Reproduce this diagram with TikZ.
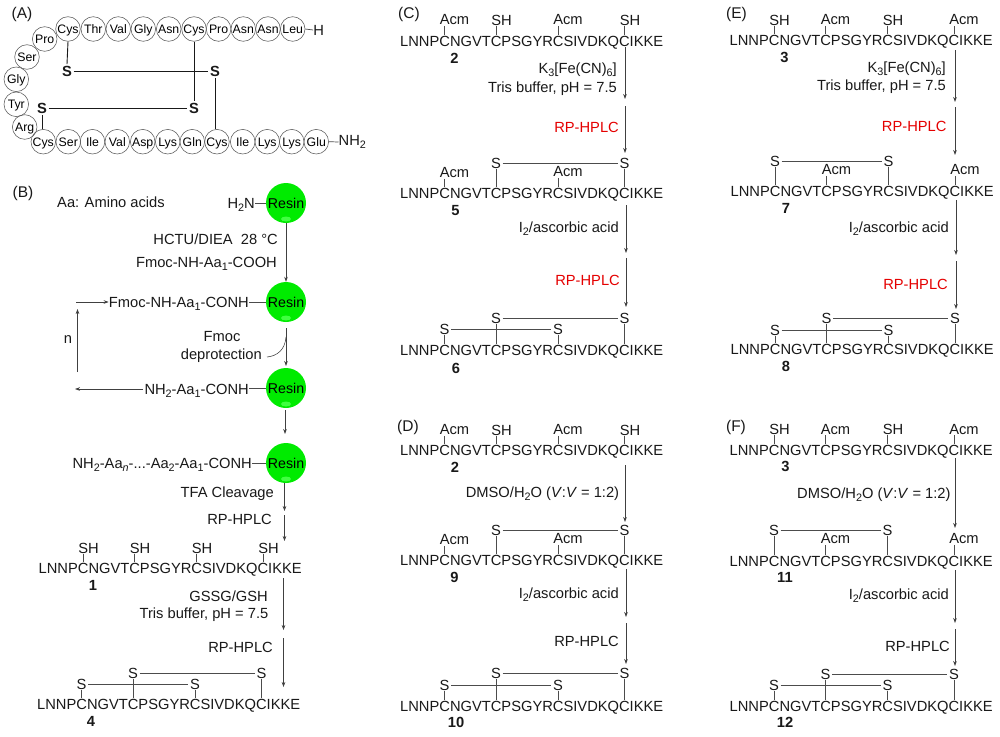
\documentclass[tikz,border=0pt]{standalone}
\usepackage{fontspec}
\setmainfont{Liberation Sans}
\usetikzlibrary{arrows.meta,calc,shapes.geometric}
\newcommand{\dn}[1]{\raisebox{-0.22em}{\fontsize{10.8}{11}\selectfont #1}}
\newcommand{\seqtext}{LNNPCNGVTCPSGYRCSIVDKQCIKKE}
\tikzset{
  txt/.style={font=\fontsize{14.7}{17}\selectfont,inner sep=0pt,text=black!90},
  base/.style={txt,yshift=-5.3pt},
  sequ/.style={base,anchor=base west},
  rgt/.style={base,anchor=base east},
  red rgt/.style={rgt,text=red!90!black},
  lab/.style={txt,inner ysep=.5pt,anchor=west,xshift=-4.9pt},
  sulf/.style={txt,inner xsep=1.5pt,inner ysep=.5pt},
  num/.style={txt,font=\fontsize{14.7}{17}\selectfont\bfseries},
  panel/.style={txt,font=\fontsize{15.5}{18}\selectfont},
  bond/.style={draw=black!70,line width=.7pt},
  arr/.style={draw=black!75,line width=.7pt,-{Stealth[length=5pt,width=3.6pt]}},
  aa/.style={circle,draw=black!65,line width=.55pt,minimum size=24.6pt,inner sep=0pt,
    font=\fontsize{12.3}{14}\selectfont,text height=8.9pt,text depth=0pt},
  sbold/.style={txt,font=\fontsize{14.7}{17}\selectfont\bfseries,inner sep=1.5pt},
  bigbond/.style={draw=black!90,line width=.9pt},
  resin/.style={circle,fill=green!92!black,minimum size=40pt,inner sep=0pt,
    font=\fontsize{14.2}{17}\selectfont,text height=10.2pt,text depth=0pt},
  shine/.style={ellipse,fill=green!75!white,minimum width=10pt,minimum height=5pt,inner sep=0pt}
}
\newcommand{\Seq}[3]{%
  \node[sequ] (#1) at (#2,#3) {\seqtext};
  \coordinate (#1-c1) at (#2+44.5,#3-6.5);
  \coordinate (#1-c2) at (#2+96,#3-6.5);
  \coordinate (#1-c3) at (#2+158,#3-6.5);
  \coordinate (#1-c4) at (#2+224.5,#3-6.5);
}
% label on a cysteine: seq, cys number, text, y
\newcommand{\Lab}[4]{%
  \node[lab] (#1-l#2) at (#1-c#2 |- 0,#4) {#3};
  \draw[bond] (#1-l#2.south -| #1-c#2) -- (#1-c#2);
}
\newcommand{\Sul}[3]{%
  \node[sulf] (#1-s#2) at (#1-c#2 |- 0,#3) {S};
  \draw[bond] (#1-s#2.south) -- (#1-c#2);
}
\newcommand{\SSb}[3]{\draw[bond] (#1-s#2.east) -- (#1-s#3.west);}
\newcommand{\Arr}[4]{%
  \coordinate (#1-a) at (#2,#3);
  \coordinate (#1-b) at (#2,#4);
  \draw[arr] (#1-a) -- (#1-b);
}
\newcommand{\Ball}[3]{%
  \node[resin] (#1) at (#2,#3) {Resin};
  \node[shine] (#1-h) at (#2,#3+16) {};
}
\begin{document}
\begin{tikzpicture}[x=1pt,y=-1pt]
\useasboundingbox (0,0) rectangle (1000,736);
\fill[white] (0,0) rectangle (1000,736);

%% (A)
\node[panel] (pA) at (22,14) {(A)};
\foreach \n/\x/\y/\t in {t1/68/29/Cys,t2/93.3/29/Thr,t3/118.3/29/Val,t4/143.3/29/Gly,t5/168.7/29/Asn,
  t6/194/29/Cys,t7/218.6/29/Pro,t8/243.3/29/Asn,t9/268/29/Asn,t10/292.7/29/Leu,
  l1/44.7/39/Pro,l2/27/57/Ser,l3/16.3/79.3/Gly,l4/16.3/104.3/Tyr,l5/24.7/127/Arg,
  b1/43.3/141.7/Cys,b2/68.3/141.7/Ser,b3/92.5/141.7/Ile,b4/117.3/141.7/Val,b5/142.7/141.7/Asp,
  b6/167.7/141.7/Lys,b7/192.3/141.7/Gln,b8/217/141.7/Cys,b9/242.7/141.7/Ile,b10/267.3/141.7/Lys,
  b11/291.7/141.7/Lys,b12/316.3/141.7/Glu}
  {\node[aa] (\n) at (\x,\y) {\t};}
\node[txt,anchor=center] (aH) at (318.7,30) {H};
\node[txt,anchor=west,yshift=0pt] (aN) at (338.5,142) {NH\dn{2}};
\draw[bond] (t10.east) -- (aH.west);
\draw[bond] (b12.east) -- (aN.west);
\node[sbold] (S1) at (67,71) {S};
\node[sbold] (S2) at (215,71) {S};
\node[sbold] (S3) at (42,108) {S};
\node[sbold] (S4) at (194,108) {S};
\draw[bigbond] (S1.east) -- (S2.west);
\draw[bigbond] (S3.east) -- (S4.west);
\draw[bigbond] (t1.south) -- (S1.north);
\draw[bigbond] (t6.south) -- (S4.north);
\draw[bigbond] (S2.south) -- (S2 |- b8.north);
\draw[bigbond] (S3.south) -- (S3 |- b1.north);

%% (B)
\node[panel] (pB) at (23,193) {(B)};
\node[txt,anchor=west] (aa) at (57,202) {Aa: Amino acids};
\Ball{r1}{286}{203}
\Ball{r2}{286}{302}
\Ball{r3}{286}{388}
\Ball{r4}{286}{463}
\node[rgt] (h2n) at (255,203) {H\dn{2}N};
\draw[bond] (h2n.east |- r1.west) -- (r1.west);
\node[rgt] (hctu) at (278,239) {HCTU/DIEA\ \ 28 °C};
\node[rgt] (fcooh) at (277,262) {Fmoc-NH-Aa\dn{1}-COOH};
\node[rgt] (fconh) at (249,302) {Fmoc-NH-Aa\dn{1}-CONH};
\draw[bond] (fconh.east |- r2.west) -- (r2.west);
\node[rgt] (nconh) at (249,389) {NH\dn{2}-Aa\dn{1}-CONH};
\draw[bond] (nconh.east |- r3.west) -- (r3.west);
\node[rgt] (allconh) at (252,463) {NH\dn{2}-Aa\dn{\textit{n}}-...-Aa\dn{2}-Aa\dn{1}-CONH};
\draw[bond] (allconh.east |- r4.west) -- (r4.west);
\node[txt] (fm) at (222,337) {Fmoc};
\node[rgt] (dep) at (262,354) {deprotection};
\node[txt] (nn) at (68,340) {n};
\draw[arr] (r1.south) -- (r2.north);
\coordinate (r2a) at (286,328);
\coordinate (r3a) at (286,366);
\draw[arr] (r2a) -- (r3a);
\coordinate (curvea) at (286,337);
\coordinate (curveb) at (267,357);
\draw[bond,line width=.6pt] (curvea) .. controls (285,350) and (277,356) .. (curveb);
\Arr{r34}{285}{410}{434}
\coordinate (loopa) at (143,389);
\coordinate (loopb) at (75,389);
\draw[arr] (loopa) -- (loopb);
\coordinate (loopc) at (77.5,372);
\coordinate (loopd) at (77.5,309);
\draw[arr] (loopc) -- (loopd);
\coordinate (loope) at (76,302);
\draw[arr] (loope) -- (fconh.west |- loope);
\node[rgt] (tfa) at (274,492) {TFA Cleavage};
\node[rgt] (rpb1) at (272,519) {RP-HPLC};
\Arr{b1}{284.5}{483}{511}
\Arr{b2}{284.5}{515}{541}
\Seq{sB1}{38.5}{568}
\Lab{sB1}{1}{SH}{548}
\Lab{sB1}{2}{SH}{548}
\Lab{sB1}{3}{SH}{548}
\Lab{sB1}{4}{SH}{548}
\node[num] (n1) at (93,585) {1};
\Arr{b3}{283.5}{578}{630}
\Arr{b4}{283.5}{638}{687}
\node[rgt] (gssg) at (268,596) {GSSG/GSH};
\node[rgt] (trisb) at (268.5,613) {Tris buffer, pH = 7.5};
\node[rgt] (rpb2) at (273,647) {RP-HPLC};
\Seq{sB4}{37}{704}
\Sul{sB4}{1}{684}
\Sul{sB4}{2}{673}
\Sul{sB4}{3}{684}
\Sul{sB4}{4}{673}
\SSb{sB4}{2}{4}
\SSb{sB4}{1}{3}
\node[num] (n4) at (91,721) {4};

%% (C)
\node[panel] (pC) at (409,14) {(C)};
\Seq{sC2}{400}{41}
\Lab{sC2}{1}{Acm}{20}
\Lab{sC2}{2}{SH}{20}
\Lab{sC2}{3}{Acm}{20}
\Lab{sC2}{4}{SH}{20}
\node[num] (nC2) at (454.5,58) {2};
\Arr{c1}{625}{47}{99}
\Arr{c2}{625}{106}{153}
\node[rgt] (cK) at (617,68) {K\dn{3}[Fe(CN)\dn{6}]};
\node[rgt] (cT) at (617,87) {Tris buffer, pH = 7.5};
\node[red rgt] (cR) at (619,127) {RP-HPLC};
\Seq{sC5}{400}{193}
\Lab{sC5}{1}{Acm}{173}
\Sul{sC5}{2}{163}
\Lab{sC5}{3}{Acm}{172}
\Sul{sC5}{4}{163}
\SSb{sC5}{2}{4}
\node[num] (nC5) at (455.5,211) {5};
\Arr{c3}{626}{205}{253}
\Arr{c4}{626}{258}{307}
\node[rgt] (cI) at (619,227) {I\dn{2}/ascorbic acid};
\node[red rgt] (cR2) at (620,280) {RP-HPLC};
\Seq{sC6}{400}{350}
\Sul{sC6}{1}{329.5}
\Sul{sC6}{2}{318}
\Sul{sC6}{3}{329.5}
\Sul{sC6}{4}{318}
\SSb{sC6}{2}{4}
\SSb{sC6}{1}{3}
\node[num] (nC6) at (456,368) {6};

%% (D)
\node[panel] (pD) at (408,427) {(D)};
\Seq{sD2}{400}{450}
\Lab{sD2}{1}{Acm}{430}
\Lab{sD2}{2}{SH}{430}
\Lab{sD2}{3}{Acm}{430}
\Lab{sD2}{4}{SH}{430}
\node[num] (nD2) at (455,467) {2};
\Arr{d1}{625}{465}{522}
\node[rgt] (dD) at (619.3,492) {DMSO/H\dn{2}O (\textit{V}:\textit{V} = 1:2)};
\Seq{sD9}{400}{560}
\Lab{sD9}{1}{Acm}{540}
\Sul{sD9}{2}{530}
\Lab{sD9}{3}{Acm}{539}
\Sul{sD9}{4}{530}
\SSb{sD9}{2}{4}
\node[num] (nD9) at (454.5,577) {9};
\Arr{d2}{626}{569}{617}
\Arr{d3}{626}{623}{664}
\node[rgt] (dI) at (619,593) {I\dn{2}/ascorbic acid};
\node[rgt] (dR) at (619,641) {RP-HPLC};
\Seq{sD10}{400}{706}
\Sul{sD10}{1}{685}
\Sul{sD10}{2}{673}
\Sul{sD10}{3}{685}
\Sul{sD10}{4}{673}
\SSb{sD10}{2}{4}
\SSb{sD10}{1}{3}
\node[num] (nD10) at (456,722) {10};

%% (E)
\node[panel] (pE) at (736.5,14) {(E)};
\Seq{sE3}{729.5}{40}
\Lab{sE3}{1}{SH}{20}
\Lab{sE3}{2}{Acm}{20}
\Lab{sE3}{3}{SH}{20}
\Lab{sE3}{4}{Acm}{20}
\node[num] (nE3) at (784.5,57) {3};
\Arr{e1}{955}{50}{102}
\Arr{e2}{955}{107}{155}
\node[rgt] (eK) at (946,67) {K\dn{3}[Fe(CN)\dn{6}]};
\node[rgt] (eT) at (946,85) {Tris buffer, pH = 7.5};
\node[red rgt] (eR) at (946.7,126) {RP-HPLC};
\Seq{sE7}{730.5}{191}
\Sul{sE7}{1}{161}
\Lab{sE7}{2}{Acm}{170}
\Sul{sE7}{3}{161}
\Lab{sE7}{4}{Acm}{170}
\SSb{sE7}{1}{3}
\node[num] (nE7) at (786,208) {7};
\Arr{e3}{956}{200}{255}
\Arr{e4}{956}{261}{309}
\node[rgt] (eI) at (949,227) {I\dn{2}/ascorbic acid};
\node[red rgt] (eR2) at (948,284) {RP-HPLC};
\Seq{sE8}{730.5}{349}
\Sul{sE8}{1}{330}
\Sul{sE8}{2}{318}
\Sul{sE8}{3}{330}
\Sul{sE8}{4}{318}
\SSb{sE8}{2}{4}
\SSb{sE8}{1}{3}
\node[num] (nE8) at (786,366) {8};

%% (F)
\node[panel] (pF) at (736,427) {(F)};
\Seq{sF3}{729.5}{450}
\Lab{sF3}{1}{SH}{429.5}
\Lab{sF3}{2}{Acm}{429.5}
\Lab{sF3}{3}{SH}{429.5}
\Lab{sF3}{4}{Acm}{429.5}
\node[num] (nF3) at (785.5,466) {3};
\Arr{f1}{955}{458}{528}
\node[rgt] (fD) at (950.7,493) {DMSO/H\dn{2}O (\textit{V}:\textit{V} = 1:2)};
\Seq{sF11}{729.5}{561}
\Sul{sF11}{1}{530}
\Lab{sF11}{2}{Acm}{539}
\Sul{sF11}{3}{530}
\Lab{sF11}{4}{Acm}{539}
\SSb{sF11}{1}{3}
\node[num] (nF11) at (785,577) {11};
\Arr{f2}{955}{570}{623}
\Arr{f3}{955}{629}{666}
\node[rgt] (fI) at (949,594) {I\dn{2}/ascorbic acid};
\node[rgt] (fR) at (950,646) {RP-HPLC};
\Seq{sF12}{729.5}{706}
\Sul{sF12}{1}{685}
\Sul{sF12}{2}{674}
\Sul{sF12}{3}{685}
\Sul{sF12}{4}{674}
\SSb{sF12}{2}{4}
\SSb{sF12}{1}{3}
\node[num] (nF12) at (785,722) {12};
\end{tikzpicture}
\end{document}
